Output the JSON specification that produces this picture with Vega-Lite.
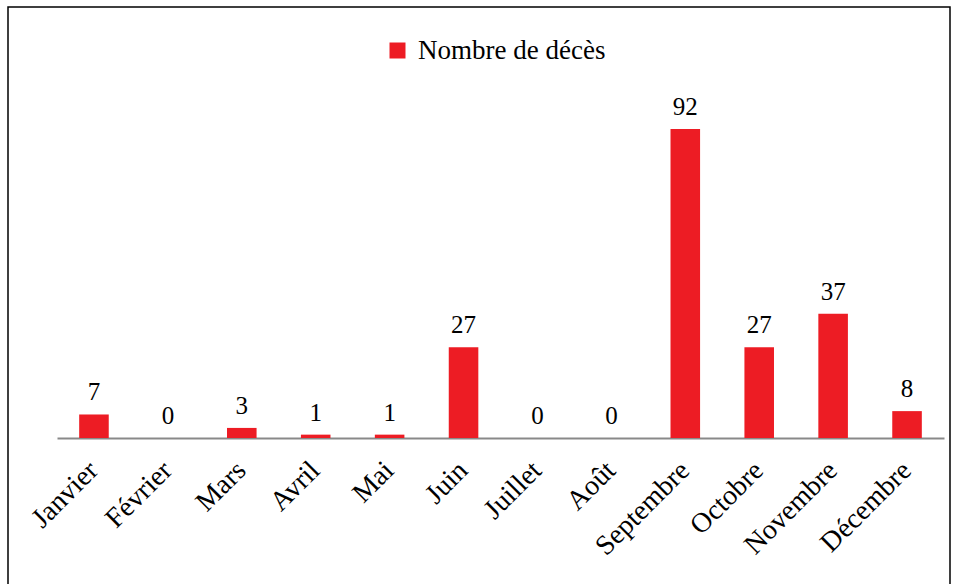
{
  "$schema": "https://vega.github.io/schema/vega-lite/v6.json",
  "autosize": "none",
  "width": 942,
  "height": 600,
  "padding": {"left": 8, "top": 7, "right": 8, "bottom": 0},
  "background": "white",
  "config": {
    "view": {"stroke": "black", "strokeWidth": 1.5},
    "font": "Liberation Serif"
  },
  "data": {
    "values": [
      {"mois": "Janvier", "deces": 7, "serie": "Nombre de décès"},
      {"mois": "Février", "deces": 0, "serie": "Nombre de décès"},
      {"mois": "Mars", "deces": 3, "serie": "Nombre de décès"},
      {"mois": "Avril", "deces": 1, "serie": "Nombre de décès"},
      {"mois": "Mai", "deces": 1, "serie": "Nombre de décès"},
      {"mois": "Juin", "deces": 27, "serie": "Nombre de décès"},
      {"mois": "Juillet", "deces": 0, "serie": "Nombre de décès"},
      {"mois": "Août", "deces": 0, "serie": "Nombre de décès"},
      {"mois": "Septembre", "deces": 92, "serie": "Nombre de décès"},
      {"mois": "Octobre", "deces": 27, "serie": "Nombre de décès"},
      {"mois": "Novembre", "deces": 37, "serie": "Nombre de décès"},
      {"mois": "Décembre", "deces": 8, "serie": "Nombre de décès"}
    ]
  },
  "encoding": {
    "x": {
      "field": "mois",
      "type": "nominal",
      "sort": null,
      "scale": {"range": [49, 936], "paddingInner": 0.6},
      "axis": {
        "title": null,
        "orient": "bottom",
        "offset": -169,
        "domainColor": "#898989",
        "domainWidth": 2,
        "ticks": false,
        "labelAngle": -45,
        "labelAlign": "right",
        "labelBaseline": "middle",
        "labelFontSize": 28,
        "labelColor": "black",
        "labelPadding": 28,
        "labelOffset": 0,
        "labelOverlap": false,
        "labelLimit": 0
      }
    },
    "y": {
      "field": "deces",
      "type": "quantitative",
      "scale": {"domain": [0, 100], "range": [431, 95]},
      "axis": null
    }
  },
  "layer": [
    {
      "mark": {"type": "bar"},
      "encoding": {
        "color": {
          "field": "serie",
          "type": "nominal",
          "scale": {"range": ["#ED1C24"]},
          "legend": {
            "title": null,
            "orient": "none",
            "legendX": 376,
            "legendY": 30,
            "symbolType": "square",
            "symbolSize": 256,
            "symbolStrokeWidth": 0,
            "labelFontSize": 27,
            "labelColor": "black",
            "labelOffset": 7,
            "labelLimit": 0
          }
        }
      }
    },
    {
      "mark": {"type": "text", "dy": -14, "baseline": "alphabetic", "fontSize": 25, "color": "black"},
      "encoding": {"text": {"field": "deces", "type": "quantitative"}}
    }
  ]
}
